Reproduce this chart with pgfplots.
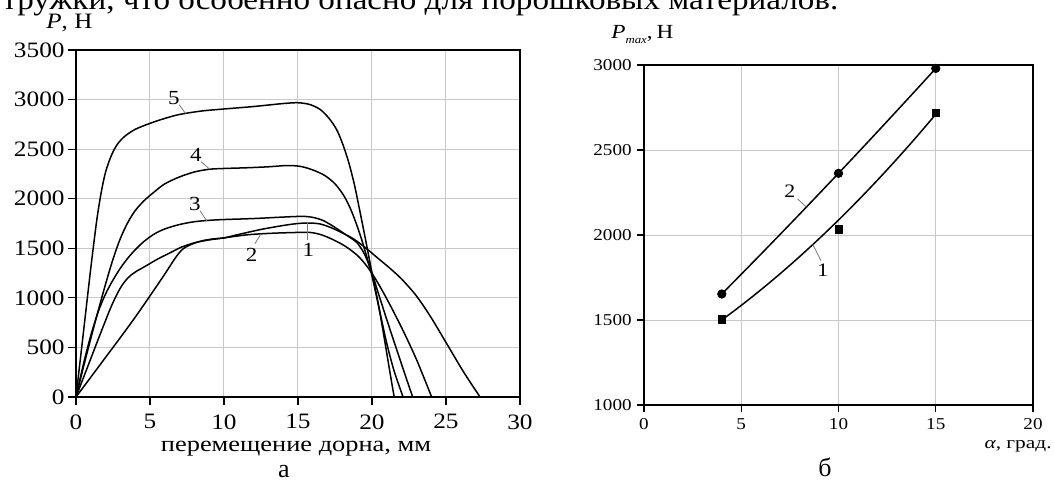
\documentclass[border=0pt]{standalone}
\usepackage{fontspec}
\setmainfont{Liberation Serif}
\usepackage{graphicx}
\usepackage{pgfplots}
\pgfplotsset{compat=1.18}
\definecolor{gridgray}{RGB}{200,200,200}
\definecolor{leadgray}{RGB}{120,120,120}
\newcommand\hs[2][1.15]{\scalebox{#1}[1]{#2}}
\tikzset{crv/.style={black, line width=0.75pt, smooth, tension=0.5, no marks}}
\begin{document}
\begin{tikzpicture}
\path[use as bounding box] (0,0) rectangle (527.5pt,-246.5pt);
% cropped body text line at top
\node[anchor=base west,inner sep=0pt] at (1pt,-4.5pt) {\resizebox{418pt}{\height}{\fontsize{15}{15}\selectfont тружки, что особенно опасно для порошковых материалов.}};
% ---------------- left chart ----------------
\begin{axis}[
  at={(38pt,-198.5pt)}, anchor=south west,
  scale only axis, width=222pt, height=173.5pt,
  xmin=0, xmax=30, ymin=0, ymax=3500,
  xtick={0,5,...,30}, ytick={0,500,...,3500},
  xticklabels={\hs{0},\hs{5},\hs{10},\hs{15},\hs{20},\hs{25},\hs{30}},
  yticklabels={\hs{0},\hs{500},\hs{1000},\hs{1500},\hs{2000},\hs{2500},\hs{3000},\hs{3500}},
  grid=major, grid style={line width=0.5pt, color=gridgray},
  axis line style={line width=0.7pt},
  tick align=outside, tick pos=left, major tick length=4pt,
  tick style={line width=0.6pt, black},
  xticklabel style={anchor=north, inner sep=0pt, yshift=-4.5pt, font=\fontsize{11}{11}\selectfont},
  yticklabel style={anchor=east, inner sep=0pt, xshift=-1.5pt, font=\fontsize{11}{11}\selectfont},
]
\addplot[crv] coordinates {(0,0)(0.5,650)(1.0,1300)(1.4,1780)(1.7,2060)(2.0,2270)(2.4,2440)(2.8,2550)(3.3,2630)(4,2700)(5,2760)(6,2810)(7,2850)(8.5,2885)(10,2905)(12,2930)(14,2960)(15,2968)(15.8,2950)(16.5,2900)(17.1,2810)(17.6,2700)(18.0,2560)(18.4,2380)(18.8,2150)(19.2,1860)(19.6,1560)(20.0,1250)(20.4,960)(20.8,620)(21.2,260)(21.5,0)};
\addplot[crv] coordinates {(0,0)(0.5,300)(1,590)(1.5,870)(2,1140)(2.5,1390)(3,1600)(3.5,1760)(4,1880)(4.6,1980)(5.3,2070)(6,2150)(7,2220)(8,2270)(9,2297)(10,2305)(11.5,2312)(13,2322)(14.3,2335)(15.2,2325)(16,2290)(16.8,2235)(17.5,2150)(18.1,2030)(18.6,1880)(19.1,1680)(19.5,1490)(20.0,1220)(20.5,880)(21.0,540)(21.5,260)(22.1,0)};
\addplot[crv] coordinates {(0,0)(0.5,330)(1,620)(1.5,860)(2,1040)(2.5,1180)(3,1300)(3.5,1400)(4,1485)(4.6,1570)(5.3,1645)(6,1695)(7,1740)(8,1768)(9,1782)(10,1790)(12,1800)(14,1815)(15.3,1822)(16,1812)(16.7,1780)(17.4,1720)(18.1,1650)(18.8,1580)(19.0,1555)(19.5,1440)(20,1250)(20.4,1060)(21,780)(21.6,510)(22.2,240)(22.75,0)};
\addplot[crv] coordinates {(0,0)(0.8,310)(1.6,620)(2.4,920)(3.0,1100)(3.5,1200)(4,1260)(4.7,1320)(5.5,1390)(6.3,1450)(7.1,1510)(8,1555)(9,1585)(10,1605)(11,1640)(12.5,1690)(14,1730)(15,1750)(15.8,1755)(16.5,1745)(17.2,1710)(18,1655)(18.8,1590)(19.6,1500)(20.4,1400)(21.2,1300)(22,1190)(23,1020)(24,800)(25,550)(26.2,250)(27.3,0)};
\addplot[crv] coordinates {(0,0)(1,200)(2,400)(3,600)(4,805)(5,1020)(6,1240)(6.7,1400)(7.2,1490)(7.8,1540)(8.5,1575)(9.3,1595)(10,1605)(11.5,1635)(13,1650)(14.5,1658)(15.8,1660)(16.6,1635)(17.4,1585)(18.2,1520)(19,1430)(19.6,1330)(20.2,1200)(21,990)(22,700)(23,380)(24.03,0)};
% curve labels
\tikzset{lbl/.style={font=\fontsize{10}{10}\selectfont, inner sep=0pt}}
\node[lbl] at (axis cs:6.62,3016) {\hs{5}};
\draw[leadgray,line width=0.4pt] (axis cs:6.97,2948) -- (axis cs:7.4,2860);
\node[lbl] at (axis cs:8.1,2441) {\hs{4}};
\draw[leadgray,line width=0.4pt] (axis cs:8.46,2373) -- (axis cs:9.03,2298);
\node[lbl] at (axis cs:8.04,1946) {\hs{3}};
\draw[leadgray,line width=0.4pt] (axis cs:8.38,1879) -- (axis cs:8.83,1777);
\node[lbl] at (axis cs:11.87,1429) {\hs{2}};
\draw[leadgray,line width=0.4pt] (axis cs:12.09,1546) -- (axis cs:12.5,1645);
\node[lbl] at (axis cs:15.7,1479) {\hs{1}};
\draw[leadgray,line width=0.4pt] (axis cs:15.65,1579) -- (axis cs:15.65,1752);
\end{axis}
\node[anchor=base west,inner sep=0pt] at (23pt,-14pt) {\resizebox{23pt}{\height}{\fontsize{11}{11}\selectfont\textit{P}, Н}};
\node[anchor=base,inner sep=0pt] at (148pt,-225.5pt) {\resizebox{135pt}{\height}{\fontsize{11}{11}\selectfont перемещение дорна, мм}};
\node[anchor=base,inner sep=0pt] at (142pt,-238.5pt) {\fontsize{13}{13}\selectfont а};
% ---------------- right chart ----------------
\begin{axis}[
  at={(322pt,-202.5pt)}, anchor=south west,
  scale only axis, width=194.5pt, height=170pt,
  xmin=0, xmax=20, ymin=1000, ymax=3000,
  xtick={0,5,...,20}, ytick={1000,1500,...,3000},
  xticklabels={\hs{0},\hs{5},\hs{10},\hs{15},\hs{20}},
  yticklabels={\hs{1000},\hs{1500},\hs{2000},\hs{2500},\hs{3000}},
  grid=major, grid style={line width=0.5pt, color=gridgray},
  axis line style={line width=0.7pt},
  tick align=outside, tick pos=left, major tick length=3.5pt,
  tick style={line width=0.6pt, black},
  xticklabel style={anchor=north, inner sep=0pt, yshift=-3pt, font=\fontsize{8.3}{8.3}\selectfont},
  yticklabel style={anchor=east, inner sep=0pt, xshift=-2.5pt, font=\fontsize{8.3}{8.3}\selectfont},
  clip=false,
]
\addplot[crv] coordinates {(4,1653)(6,1886)(8,2122.6)(10,2363)(12,2607)(14,2854.8)(15,2980)};
\addplot[crv] coordinates {(4,1500)(5,1586)(6,1676.8)(7,1772.4)(8,1872.8)(9,1978)(10,2088)(11,2202.8)(12,2322.4)(13,2446.8)(14,2576)(15,2710)};
\addplot[only marks, mark=*, mark size=2.1pt, black] coordinates {(4,1653)(10,2363)(15,2980)};
\addplot[only marks, mark=square*, mark size=1.8pt, black] coordinates {(4,1504)(10,2033)(15,2716)};
\node[font=\fontsize{9.5}{9.5}\selectfont, inner sep=0pt] at (axis cs:7.5,2255) {\hs{2}};
\draw[leadgray,line width=0.4pt] (axis cs:7.9,2212) -- (axis cs:8.35,2164);
\node[font=\fontsize{9.5}{9.5}\selectfont, inner sep=0pt] at (axis cs:9.2,1794) {\hs{1}};
\draw[leadgray,line width=0.4pt] (axis cs:8.68,1944) -- (axis cs:9.1,1848);
\end{axis}
\node[anchor=base west,inner sep=0pt] at (305.5pt,-19pt) {\resizebox{31pt}{\height}{\fontsize{10}{10}\selectfont\textit{P}\raisebox{-2.5pt}{\fontsize{5.5}{5.5}\selectfont\textit{max}},\,Н}};
\node[anchor=base east,inner sep=0pt] at (526pt,-224pt) {\resizebox{33.5pt}{\height}{\fontsize{8.5}{8.5}\selectfont\textit{α}, град.}};
\node[anchor=base,inner sep=0pt] at (412.5pt,-238pt) {\fontsize{13}{13}\selectfont б};
\end{tikzpicture}
\end{document}
